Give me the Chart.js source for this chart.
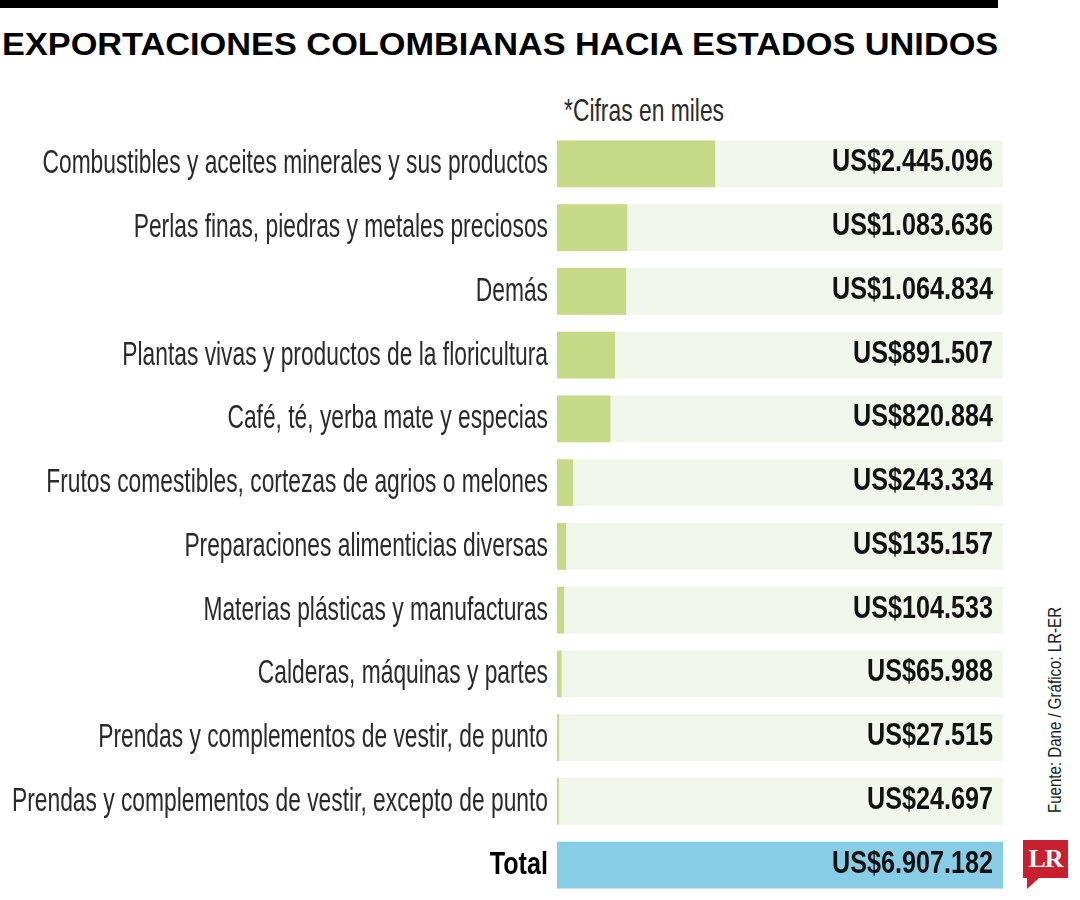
<!DOCTYPE html>
<html>
<head>
<meta charset="utf-8">
<script src="https://cdn.jsdelivr.net/npm/chart.js@4.4.1/dist/chart.umd.min.js"></script>
<style>
  body { margin: 0; background: #fff; width: 1080px; height: 900px; position: relative; overflow: hidden; }
  #topbar { position: absolute; left: 0; top: 0; width: 998px; height: 8px; background: #000; }
  .fit { position: absolute; white-space: nowrap; transform-origin: left top; font-family: "Liberation Sans", sans-serif; }
  #title { left: 2px; top: 28px; font-size: 32px; font-weight: bold; line-height: 32px; color: #000; }
  #note { left: 564px; top: 94px; font-size: 32px; line-height: 32px; color: #2a2a2a; }
  #source { position: absolute; left: 1055px; top: 710px; font: 18px "Liberation Sans", sans-serif; color: #222; white-space: nowrap; }
  #logo { position: absolute; left: 1023px; top: 840px; width: 45px; height: 38px; background: #c8202e; color: #fff; font: bold 26px "Liberation Serif", serif; text-align: center; line-height: 38px; letter-spacing: -1px; }
  #logo::after { content: ""; position: absolute; left: 4px; top: 38px; border-left: 12px solid #c8202e; border-bottom: 11px solid transparent; }
  #wrap { position: absolute; left: 0; top: 132px; width: 1080px; height: 765px; }
</style>
</head>
<body>
<div id="topbar"></div>
<div id="title" class="fit">EXPORTACIONES COLOMBIANAS HACIA ESTADOS UNIDOS</div>
<div id="note" class="fit">*Cifras en miles</div>
<div id="source">Fuente: Dane / Gráfico: LR-ER</div>
<div id="logo">LR</div>
<div id="wrap"><canvas id="chart"></canvas></div>
<script>
const categories = [
  "Combustibles y aceites minerales y sus productos",
  "Perlas finas, piedras y metales preciosos",
  "Demás",
  "Plantas vivas y productos de la floricultura",
  "Café, té, yerba mate y especias",
  "Frutos comestibles, cortezas de agrios o melones",
  "Preparaciones alimenticias diversas",
  "Materias plásticas y manufacturas",
  "Calderas, máquinas y partes",
  "Prendas y complementos de vestir, de punto",
  "Prendas y complementos de vestir, excepto de punto",
  "Total"
];
const values = [2445096, 1083636, 1064834, 891507, 820884, 243334, 135157, 104533, 65988, 27515, 24697, 6907182];
const total = values[values.length - 1];

const FAMILY = '"Liberation Sans", sans-serif';
const LIGHT_FONT = "34px " + FAMILY;
const BOLD_FONT = "bold 31px " + FAMILY;

function fmt(n) {
  return "US$" + n.toString().replace(/\B(?=(\d{3})+(?!\d))/g, ".");
}

// the original uses a condensed face, so squeeze text horizontally
const mctx = document.createElement("canvas").getContext("2d");
function textWidth(text, font) {
  mctx.font = font;
  return mctx.measureText(text).width;
}
const lightK = 536 / textWidth(categories[10], LIGHT_FONT);
const boldK = 161 / textWidth(fmt(values[0]), BOLD_FONT);

function squeeze(id, width) {
  const el = document.getElementById(id);
  el.style.transform = `scaleX(${width / el.offsetWidth})`;
}
squeeze("title", 996);
squeeze("note", 160);
const src = document.getElementById("source");
src.style.transform = `translate(-50%, -50%) rotate(-90deg) scaleX(${206 / src.offsetWidth})`;

const valueLabels = {
  id: "valueLabels",
  afterDatasetsDraw(chart) {
    const ctx = chart.ctx;
    const y = chart.scales.y;
    const x = chart.chartArea.right - 10;
    values.forEach((v, i) => {
      ctx.save();
      ctx.translate(x, y.getPixelForValue(i) - 1);
      ctx.scale(boldK, 1);
      ctx.font = BOLD_FONT;
      ctx.fillStyle = "#111";
      ctx.textAlign = "right";
      ctx.textBaseline = "middle";
      ctx.fillText(fmt(v), 0, 0);
      ctx.restore();
    });
  }
};

function condensedLabels(scale) {
  if (scale._condensed) return;
  scale._condensed = true;
  scale.drawLabels = function () {
    const c = this.ctx;
    this.getLabelItems().forEach(item => {
      const [tx, ty] = item.options.translation;
      const bold = item.font.weight === "bold";
      c.save();
      c.translate(tx, ty);
      c.scale(bold ? boldK : lightK, 1);
      c.font = item.font.string;
      c.fillStyle = item.options.color;
      c.textAlign = "right";
      c.textBaseline = "middle";
      c.fillText(item.label, 0, 0);
      c.restore();
    });
  };
}

const ctx = document.getElementById("chart").getContext("2d");

new Chart(ctx, {
  type: "bar",
  data: {
    labels: categories,
    datasets: [
      {
        data: values,
        backgroundColor: values.map((v, i) => i === values.length - 1 ? "#88cde6" : "#c5d987"),
        barThickness: 46,
        grouped: false,
        order: 0
      },
      {
        data: categories.map(() => total),
        backgroundColor: "#f1f6eb",
        barThickness: 46,
        grouped: false,
        order: 1
      }
    ]
  },
  options: {
    indexAxis: "y",
    responsive: true,
    maintainAspectRatio: false,
    animation: false,
    layout: { padding: { left: 0, right: 77, top: 0, bottom: 0 } },
    plugins: { legend: { display: false }, tooltip: { enabled: false } },
    scales: {
      x: { display: false, min: 0, max: total },
      y: {
        afterFit: s => {
          s.width = 557;
          s.paddingTop = 0;
          s.paddingBottom = 0;
          condensedLabels(s);
        },
        grid: { display: false, drawTicks: false },
        border: { display: false },
        ticks: {
          padding: 9,
          color: ctx => ctx.index === categories.length - 1 ? "#000" : "#2a2a2a",
          font: ctx => ctx.index === categories.length - 1
            ? { family: FAMILY, size: 31, weight: "bold" }
            : { family: FAMILY, size: 34, weight: "normal" }
        }
      }
    }
  },
  plugins: [valueLabels]
});
</script>
</body>
</html>
